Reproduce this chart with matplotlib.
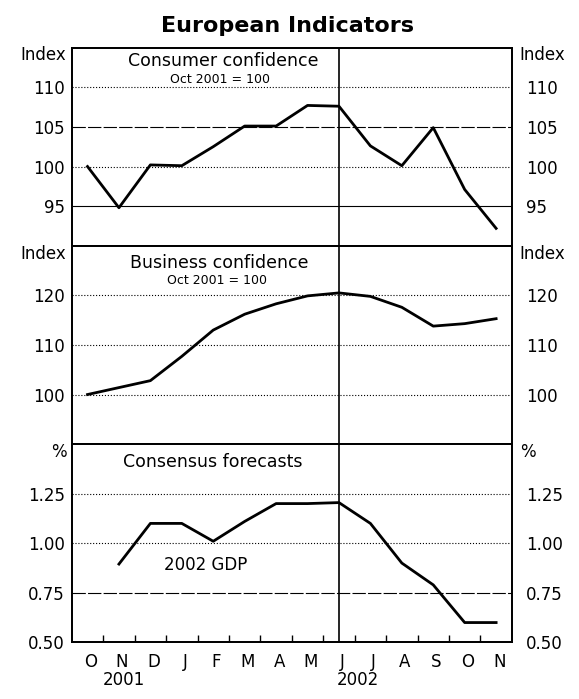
import matplotlib
matplotlib.use("Agg")
from matplotlib import pyplot as plt
import numpy as np

# months Oct 2001 .. Nov 2002
months = ['O', 'N', 'D', 'J', 'F', 'M', 'A', 'M', 'J', 'J', 'A', 'S', 'O', 'N']
years = ['2001', '2002']

consumer = [100.0, 94.8, 100.2, 100.1, 102.5, 105.1, 105.1, 107.7, 107.6, 102.6, 100.1, 104.9, 97.1, 92.2]
business = [100.0, 101.4, 102.8, 107.7, 113.0, 116.2, 118.3, 119.9, 120.5, 119.8, 117.6, 113.8, 114.3, 115.3]
# consensus 2002 GDP forecast, Nov 2001 .. Nov 2002
gdp_forecast = [0.895, 1.10, 1.10, 1.01, 1.11, 1.20, 1.20, 1.205, 1.10, 0.90, 0.79, 0.60, 0.60]

consumer_ticks = [95, 100, 105, 110]
business_ticks = [100, 110, 120]
gdp_ticks = [0.50, 0.75, 1.00, 1.25]

x_all = np.arange(len(months)) + 0.5
x_gdp = np.arange(1, len(months)) + 0.5

fig = plt.figure(figsize=(5.79, 6.99), dpi=100)
left, right, top, bottom = 0.124, 0.884, 0.932, 0.081
h = (top - bottom) / 3

panels = [
    dict(y=consumer, x=x_all, ylim=(90, 115), ticks=consumer_ticks, fmt='{:.0f}', unit='Index',
         grid={95: '-', 100: ':', 105: (0, (12, 2)), 110: ':'}),
    dict(y=business, x=x_all, ylim=(90, 130), ticks=business_ticks, fmt='{:.0f}', unit='Index',
         grid={100: ':', 110: ':', 120: ':'}),
    dict(y=gdp_forecast, x=x_gdp, ylim=(0.5, 1.5), ticks=gdp_ticks, fmt='{:.2f}', unit='%',
         grid={0.75: (0, (12, 2)), 1.00: ':', 1.25: ':'}),
]

axes = []
for i, p in enumerate(panels):
    ax = fig.add_axes([left, top - (i + 1) * h, right - left, h])
    axes.append(ax)
    ax.set_xlim(0, len(months))
    ax.set_ylim(*p['ylim'])
    for v, ls in p['grid'].items():
        ax.axhline(v, color='black', lw=0.8, ls=ls, zorder=1)
    ax.axvline(8.5, color='black', lw=1.2, zorder=2)
    ax.plot(p['x'], p['y'], color='black', lw=2.0, zorder=3)

    ax.set_yticks(p['ticks'])
    ax.set_yticklabels([p['fmt'].format(t) for t in p['ticks']])
    ax.tick_params(axis='y', length=0, pad=5, labelsize=12)
    ax2 = ax.twinx()
    ax2.set_ylim(*p['ylim'])
    ax2.set_yticks(p['ticks'])
    ax2.set_yticklabels([p['fmt'].format(t) for t in p['ticks']])
    ax2.tick_params(axis='y', length=0, pad=10, labelsize=12)

    for a in (ax, ax2):
        for s in a.spines.values():
            s.set_linewidth(1.3)

    ax.text(-0.012, 0.96, p['unit'], transform=ax.transAxes, ha='right', va='center', fontsize=12)
    ax.text(1.018, 0.96, p['unit'], transform=ax.transAxes, ha='left', va='center', fontsize=12)

    if i < 2:
        ax.set_xticks([])
    else:
        ax.set_xticks(np.arange(1, len(months)))
        ax.set_xticklabels([])
        ax.tick_params(axis='x', which='major', direction='in', length=5, width=1.0)
        ax.set_xticks(np.arange(len(months)) + 0.6, minor=True)
        ax.set_xticklabels(months, minor=True)
        ax.tick_params(axis='x', which='minor', length=0, pad=8, labelsize=12)
        for xpos, yr in zip([1.65, 9.1], years):
            ax.annotate(yr, xy=(xpos, 0), xycoords=('data', 'axes fraction'),
                        xytext=(0, -27), textcoords='offset points',
                        ha='center', va='center', fontsize=12)

axes[0].text(0.345, 0.905, 'Consumer confidence', transform=axes[0].transAxes,
             ha='center', va='baseline', fontsize=12.5)
axes[0].text(0.337, 0.823, 'Oct 2001 = 100', transform=axes[0].transAxes,
             ha='center', va='baseline', fontsize=9)
axes[1].text(0.335, 0.89, 'Business confidence', transform=axes[1].transAxes,
             ha='center', va='baseline', fontsize=12.5)
axes[1].text(0.33, 0.805, 'Oct 2001 = 100', transform=axes[1].transAxes,
             ha='center', va='baseline', fontsize=9)
axes[2].text(0.32, 0.885, 'Consensus forecasts', transform=axes[2].transAxes,
             ha='center', va='baseline', fontsize=12.5)
axes[2].text(4.27, 0.89, '2002 GDP', ha='center', va='center', fontsize=12)

fig.text(0.497, 1 - 32.5 / 699, 'European Indicators', ha='center', va='baseline',
         fontsize=16, fontweight='bold')

fig.savefig('out.png', dpi=100)
